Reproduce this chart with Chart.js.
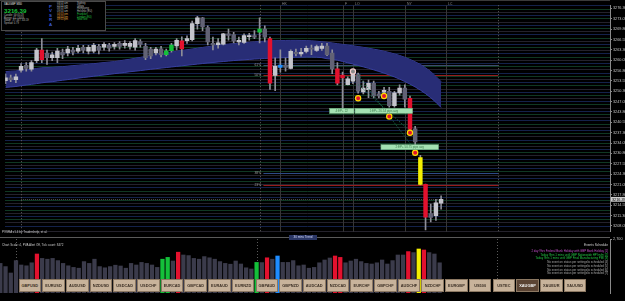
<!DOCTYPE html>
<html lang="en">
<head>
<meta charset="UTF-8">
<meta name="viewport" content="width=device-width, initial-scale=1.0">
<title>XAUGBP M30 - PVSRA</title>
<script src="https://cdn.jsdelivr.net/npm/chart.js"></script>
<style>
  html, body { margin: 0; padding: 0; background: #000; }
  #wrap { position: relative; width: 625px; height: 301px; overflow: hidden; background: #000;
          font-family: "Liberation Sans", Arial, sans-serif; }
  #mainChart { position: absolute; left: 0; top: 0; }
  #volChart { position: absolute; left: 0; top: 237px; }
  .txt { position: absolute; white-space: nowrap; line-height: 1; }
  #info { position: absolute; left: 1px; top: 1px; width: 103px; height: 28px; border: 1px solid #4a4a4a; background: #000; }
  #info .sm { font-size: 2.6px; color: #b8b8b8; }
  .pvsra { position: absolute; left: 47px; font-size: 4.4px; font-weight: bold; color: #3b5bd8; }
  .btn { position: absolute; top: 279px; height: 13px; width: 22.7px; background: #c8b39b; border: 0.5px solid #8c7862;
         box-sizing: border-box; font-size: 3.9px; font-weight: bold; color: #3a2e24; text-align: center; line-height: 12.5px; }
  .btn.on { background: #5b4434; color: #f2f2f2; }
  #events { position: absolute; right: 17px; top: 243.5px; text-align: right; font-size: 2.9px; line-height: 3.75px; }
</style>
</head>
<body>
<div id="wrap">
  <canvas id="mainChart" width="625" height="237"></canvas>
  <canvas id="volChart" width="625" height="64"></canvas>

  <div id="info">
    <div class="txt" style="left:2px;top:1px;font-size:2.8px;color:#e6e6e6">XAUGBP M30</div>
    <div class="txt" style="left:2px;top:5.5px;font-size:6.2px;color:#18c43a;font-weight:bold">3216.39</div>
    <div class="txt sm" style="left:2px;top:13px">Candle: 00:05:28</div>
    <div class="txt sm" style="left:2px;top:15.7px">Range: 41 / 5009</div>
    <div class="txt sm" style="left:2px;top:18.4px">Swap: -97.56 / -63.19</div>
    <div class="txt sm" style="left:2px;top:21.1px">Spread: 0.79</div>
    <div class="pvsra" style="top:2px">P</div>
    <div class="pvsra" style="top:6.4px">V</div>
    <div class="pvsra" style="top:10.8px">S</div>
    <div class="pvsra" style="top:15.2px">R</div>
    <div class="pvsra" style="top:19.6px">A</div>
    <div id="sessions"></div>
  </div>

  <div class="txt" style="left:2px;top:231px;font-size:3px;color:#c8c8c8">PVSRA v1.4 by Tradershelp, et al.</div>
  <div class="txt" style="left:2px;top:243.5px;font-size:3px;color:#c8c8c8">Chart Scale: 4,  PVA Alert Off,  Tick count: 8472</div>
  <div class="txt" style="left:289px;top:235px;width:28px;height:5px;background:#2b3766;color:#d6dcff;font-size:3px;line-height:5px;text-align:center">30 mins Trend</div>
  <div id="events"></div>
  <div id="buttons"></div>
</div>

<script>
// ---- price data (M30 bars) ----
const opens = [3253.6, 3254.5, 3253.9, 3256.9, 3258.4, 3257.2, 3259.9, 3263.2, 3262.3, 3260.8,
  3260.8, 3262.6, 3262.3, 3263.2, 3262.9, 3264.1, 3262.9, 3262.9, 3264.4, 3264.1,
  3264.7, 3264.4, 3265.3, 3264.7, 3264.4, 3264.1, 3265.9, 3264.4, 3263.5, 3262.3,
  3263.6, 3261.8, 3263.0, 3264.5, 3266.1, 3266.2, 3266.5, 3271.5, 3273.3, 3270.3,
  3265.3, 3264.9, 3265.1, 3268.3, 3268.1, 3265.8, 3265.6, 3267.4, 3267.8, 3268.8,
  3269.8, 3266.8, 3255.3, 3257.8, 3258.5, 3257.5, 3262.5, 3262.0, 3262.8, 3263.8,
  3263.1, 3263.7, 3264.5, 3262.3, 3257.3, 3255.4, 3252.4, 3253.5, 3255.5, 3250.1,
  3250.8, 3252.8, 3249.5, 3250.0, 3250.3, 3245.8, 3249.8, 3251.3, 3248.1, 3238.5,
  3229.5, 3221.1, 3211.9, 3211.3, 3215.2];
const highs = [3255.7, 3255.4, 3255.7, 3259.0, 3259.3, 3259.9, 3263.8, 3266.8, 3263.2, 3262.6,
  3263.8, 3263.5, 3264.4, 3264.1, 3264.7, 3264.7, 3264.7, 3265.3, 3265.0, 3265.6,
  3265.3, 3265.6, 3265.9, 3266.2, 3265.9, 3266.8, 3266.5, 3265.3, 3264.1, 3264.1,
  3264.4, 3263.5, 3265.3, 3266.8, 3267.4, 3267.7, 3272.3, 3273.8, 3273.5, 3270.8,
  3267.3, 3266.8, 3268.5, 3269.8, 3268.8, 3267.3, 3268.3, 3268.5, 3269.3, 3273.3,
  3270.8, 3267.3, 3260.8, 3263.3, 3260.8, 3263.3, 3263.5, 3263.8, 3264.5, 3264.8,
  3264.8, 3265.3, 3265.3, 3263.3, 3259.3, 3256.3, 3254.8, 3256.3, 3256.0, 3253.5,
  3253.8, 3253.5, 3250.3, 3251.5, 3251.5, 3250.3, 3252.3, 3252.3, 3248.8, 3239.3,
  3230.2, 3221.2, 3214.9, 3216.4, 3217.5];
const lows = [3252.7, 3253.3, 3253.0, 3256.3, 3256.6, 3256.6, 3259.3, 3259.3, 3258.7, 3259.9,
  3259.3, 3260.5, 3261.4, 3261.7, 3262.3, 3262.3, 3262.0, 3262.3, 3262.0, 3263.2,
  3262.9, 3263.5, 3263.5, 3263.8, 3263.5, 3263.2, 3264.1, 3260.2, 3260.5, 3261.7,
  3261.1, 3261.4, 3262.6, 3263.3, 3261.4, 3265.3, 3266.1, 3269.8, 3269.3, 3264.8,
  3263.3, 3263.8, 3264.8, 3266.3, 3265.5, 3264.8, 3265.3, 3266.3, 3266.8, 3265.5,
  3265.8, 3250.9, 3250.5, 3256.3, 3256.6, 3257.3, 3261.4, 3261.3, 3262.3, 3261.8,
  3262.8, 3263.1, 3261.5, 3255.8, 3252.3, 3244.3, 3252.3, 3252.7, 3249.7, 3249.5,
  3248.3, 3248.3, 3248.2, 3249.4, 3245.3, 3245.3, 3249.1, 3245.3, 3237.3, 3232.3,
  3220.9, 3206.8, 3209.3, 3209.8, 3213.3];
const closes = [3254.5, 3253.9, 3254.8, 3258.1, 3257.5, 3259.3, 3263.2, 3260.2, 3260.8, 3261.7,
  3262.9, 3261.7, 3263.5, 3262.6, 3263.8, 3263.2, 3264.1, 3264.7, 3263.2, 3265.0,
  3263.8, 3265.0, 3264.4, 3265.3, 3265.3, 3266.2, 3265.0, 3260.8, 3261.4, 3263.5,
  3261.8, 3263.0, 3264.8, 3266.3, 3263.6, 3266.8, 3271.5, 3273.3, 3270.5, 3265.8,
  3264.8, 3265.5, 3268.3, 3267.8, 3266.1, 3266.3, 3267.8, 3267.8, 3267.3, 3269.8,
  3267.3, 3252.8, 3258.1, 3258.5, 3257.8, 3262.8, 3262.1, 3262.5, 3263.8, 3263.5,
  3264.3, 3264.5, 3261.8, 3257.3, 3252.8, 3254.5, 3254.2, 3255.8, 3250.3, 3251.3,
  3252.8, 3248.8, 3248.8, 3250.6, 3245.8, 3249.8, 3251.3, 3247.8, 3238.3, 3234.4,
  3221.1, 3210.8, 3210.7, 3215.3, 3216.39];
const volumes = [1480, 1320, 1000, 1620, 1400, 1360, 1510, 1950, 1730, 1690,
  1730, 1620, 1480, 1360, 1280, 1240, 1570, 1480, 1690, 1320,
  1260, 1320, 1390, 1350, 1240, 1480, 1400, 1530, 1480, 1400,
  1280, 1690, 1780, 1600, 2040, 1900, 1870, 1730, 1690, 1820,
  1760, 1690, 1570, 1480, 1440, 1600, 1450, 1260, 1200, 1530,
  1520, 1760, 1690, 1850, 1530, 1530, 1620, 1360, 1400, 1240,
  1280, 1510, 1650, 1750, 1850, 1780, 1510, 1600, 1690, 1570,
  1480, 1450, 1510, 1650, 1450, 1620, 1900, 1900, 2070, 2020,
  2200, 2150, 2020, 1950, 1510];

// PVSRA vector candles
const redBars = [7, 34, 51, 64, 65, 78, 81];
const greenBars = [31, 32, 49];
const blueBars = [53];
const yellowBars = [80];

// channel band
const bandUpper = [3256.45, 3256.6, 3256.66, 3256.9, 3257.05, 3257.2, 3257.44, 3257.65, 3257.74, 3257.8,
  3257.92, 3258.01, 3258.16, 3258.34, 3258.46, 3258.61, 3258.76, 3258.94, 3259.12, 3259.3,
  3259.45, 3259.6, 3259.84, 3260.11, 3260.35, 3260.65, 3260.92, 3261.22, 3261.55, 3261.85,
  3262.15, 3262.36, 3262.6, 3262.84, 3263.08, 3263.32, 3263.56, 3263.8, 3264.04, 3264.28,
  3264.52, 3264.7, 3264.91, 3265.09, 3265.24, 3265.39, 3265.54, 3265.66, 3265.78, 3265.9,
  3266.02, 3266.11, 3266.17, 3266.2, 3266.23, 3266.26, 3266.26, 3266.23, 3266.2, 3266.11,
  3265.99, 3265.84, 3265.66, 3265.45, 3265.21, 3265.0, 3264.76, 3264.55, 3264.31, 3264.07,
  3263.8, 3263.5, 3263.2, 3262.84, 3262.45, 3262.0, 3261.52, 3260.95, 3260.29, 3259.54,
  3258.7, 3257.65, 3256.45, 3254.95, 3253.3];
const bandLower = [3251.5, 3251.65, 3251.8, 3252.04, 3252.25, 3252.46, 3252.7, 3252.94, 3253.15, 3253.3,
  3253.54, 3253.75, 3253.96, 3254.2, 3254.41, 3254.62, 3254.8, 3255.01, 3255.22, 3255.4,
  3255.61, 3255.82, 3256.0, 3256.21, 3256.42, 3256.6, 3256.78, 3256.99, 3257.2, 3257.38,
  3257.56, 3257.74, 3257.92, 3258.1, 3258.28, 3258.46, 3258.64, 3258.82, 3259.0, 3259.18,
  3259.33, 3259.48, 3259.63, 3259.78, 3259.93, 3260.05, 3260.17, 3260.29, 3260.41, 3260.5,
  3260.59, 3260.68, 3260.74, 3260.8, 3260.86, 3260.92, 3260.95, 3260.98, 3261.01, 3261.01,
  3260.98, 3260.85, 3260.5, 3260.35, 3260.05, 3259.66, 3259.24, 3258.85, 3258.4, 3257.95,
  3257.5, 3257.02, 3256.51, 3256.0, 3255.4, 3254.8, 3254.11, 3253.36, 3252.55, 3251.65,
  3250.66, 3249.55, 3248.29, 3246.85, 3245.2];

// trade markers and targets
const markerBars = [67, 68, 73, 74, 78, 79];
const markerPrices = [3256.5, 3248.1, 3248.8, 3242.4, 3237.3, 3231.0];
const tradePathA = [{ x: 68, y: 3255.4 }, { x: 79, y: 3231.8 }];
const tradePathB = [{ x: 68, y: 3252.4 }, { x: 78, y: 3237.8 }];
const tpTexts = ['4:EP+ 22', '1:EP+ 26.54 pips avg', '2:EP+ 50.75 pips avg'];
const tpFrom = [62.5, 67.4, 72.4];
const tpTo = [67.2, 78.5, 83.5];
const tpPrices = [3244.15, 3244.15, 3232.75];

// horizontal levels
const levelPrices = [3258.4, 3255.4, 3224.8, 3220.9];
const levelNames = ['61%', '50%', '38%', '23%'];

// sessions and days
const daySeparators = [3, 49, 95];
const sessionBars = [53, 65, 67, 77, 85];
const sessionNames = ['HK', 'F', 'LO', 'NY', 'LC'];

// axis labels
const priceTicks = [3276.30, 3273.05, 3269.80, 3266.55, 3263.30, 3260.05, 3256.80, 3253.55, 3250.30, 3247.05,
  3243.80, 3240.55, 3237.30, 3234.05, 3230.80, 3227.55, 3224.30, 3221.05, 3217.80, 3214.55, 3211.30, 3208.05];
const timeTickBars = [0, 4, 9, 15, 20, 25, 30, 36, 41, 48, 53, 58, 63, 69, 74, 79, 84];
const timeLabels = ['24 Dec 2025', '26 Dec 01:30', '26 Dec 04:00', '26 Dec 07:00', '26 Dec 09:30', '26 Dec 12:00',
  '26 Dec 14:30', '26 Dec 17:30', '26 Dec 20:00', '26 Dec 23:30', '29 Dec 03:00', '29 Dec 05:30', '29 Dec 08:00',
  '29 Dec 11:00', '29 Dec 13:30', '29 Dec 16:00', '29 Dec 18:30'];
const volTicks = [2700];

const pairButtons = ['GBPUSD', 'EURUSD', 'AUDUSD', 'NZDUSD', 'USDCAD', 'USDCHF', 'EURCAD', 'GBPCAD', 'EURAUD', 'EURNZD',
  'GBPAUD', 'GBPNZD', 'AUDCAD', 'NZDCAD', 'EURCHF', 'GBPCHF', 'AUDCHF', 'NZDCHF', 'EURGBP', 'US500', 'USTEC',
  'XAUGBP', 'XAUEUR', 'XAUUSD'];
const sessionTimes = ['03:53 am', '07:53 am', '08:53 am', '09:53 am', '04:53 pm', '04:53 pm', '09:53 pm'];
const sessionCities = ['Sydney', 'Tokyo', 'Hongkong', 'Helsinki (EU)', 'Frankfurt', 'London (EU)', 'NewYork'];
const eventLines = [
  '2 day 9hrs Federal Bank Holiday with GBP Bank Holiday [1]',
  'Today 9hrs 1 mins until GBP Nationwide HPI m/m [2]',
  'Today 9hrs 1 mins until GBP Final Manufacturing PMI [3]',
  'No event on status per settings/is scheduled [4]',
  'No event on status per settings/is scheduled [5]',
  'No event on status per settings/is scheduled [6]',
  'No event on status per settings/is scheduled [7]'];
const eventColors = ['#c24fc8', '#22c443', '#22c443', '#a8a8a8', '#a8a8a8', '#a8a8a8', '#a8a8a8'];

// ---- layout constants ----
const xMin = -0.06, xMax = 116.57;
const priceMin = 3206.2, priceMax = 3277.3;
const volMax = 2700;
const bid = closes[closes.length - 1];
const FONT = '"Liberation Sans", Arial, sans-serif';

const vecColor = { red: '#e3112e', green: '#14c03a', blue: '#1e8cff', yellow: '#f4ee00' };
function vectorOf(i) {
  if (redBars.includes(i)) return vecColor.red;
  if (greenBars.includes(i)) return vecColor.green;
  if (blueBars.includes(i)) return vecColor.blue;
  if (yellowBars.includes(i)) return vecColor.yellow;
  return null;
}
const bodyColors = closes.map((c, i) => vectorOf(i) || (c >= opens[i] ? '#c4c4cc' : '#626275'));
const volColors = volumes.map((v, i) => vectorOf(i) || '#3b3b4b');
const stripeColors = ['#103822', '#14224a', '#24222c'];

// ---- html bits ----
const sess = document.getElementById('sessions');
sessionTimes.forEach((t, i) => {
  const late = i >= 4;
  sess.insertAdjacentHTML('beforeend',
    `<div class="txt" style="left:55px;top:${1 + i * 2.7}px;font-size:2.6px;color:${late ? '#e2a23c' : '#b8b8b8'}">${t}</div>` +
    `<div class="txt" style="left:75px;top:${1 + i * 2.7}px;font-size:2.6px;color:${late ? '#22c443' : '#b8b8b8'}">${sessionCities[i]}</div>`);
});
const ev = document.getElementById('events');
ev.insertAdjacentHTML('beforeend', '<div style="color:#d6d6d6;font-size:3.2px;margin-bottom:2.5px">Events Schedule</div>');
eventLines.forEach((t, i) => ev.insertAdjacentHTML('beforeend', `<div style="color:${eventColors[i]}">${t}</div>`));
const btns = document.getElementById('buttons');
pairButtons.forEach((p, i) => {
  btns.insertAdjacentHTML('beforeend',
    `<div class="btn${p === 'XAUGBP' ? ' on' : ''}" style="left:${18.5 + i * 23.7}px">${p}</div>`);
});

// ---- main chart overlay (sessions, levels, targets, bid) ----
const mainOverlay = {
  id: 'mainOverlay',
  beforeDatasetsDraw(chart) {
    const { ctx, chartArea: a, scales: { x, y } } = chart;
    ctx.save();
    ctx.lineWidth = 1;
    ctx.strokeStyle = '#5e5e5e';
    ctx.setLineDash([1, 2]);
    daySeparators.forEach(b => {
      const px = Math.round(x.getPixelForValue(b)) + 0.5;
      ctx.beginPath(); ctx.moveTo(px, a.top); ctx.lineTo(px, a.bottom); ctx.stroke();
    });
    ctx.setLineDash([]);
    ctx.strokeStyle = '#363636';
    ctx.fillStyle = '#8c8c8c';
    ctx.font = '3.4px ' + FONT;
    ctx.textBaseline = 'top';
    sessionBars.forEach((b, i) => {
      const px = Math.round(x.getPixelForValue(b)) + 0.5;
      ctx.beginPath(); ctx.moveTo(px, a.top); ctx.lineTo(px, a.bottom); ctx.stroke();
      ctx.fillText(sessionNames[i], px + 1.5, 2);
    });
    // levels
    const lx0 = x.getPixelForValue(48), lx1 = x.getPixelForValue(95);
    const lvColors = ['#3d4a6c', '#951c1c', '#2d4a86', '#951c1c'];
    ctx.textBaseline = 'middle';
    levelPrices.forEach((p, i) => {
      const py = Math.round(y.getPixelForValue(p)) + 0.5;
      ctx.strokeStyle = lvColors[i];
      ctx.beginPath(); ctx.moveTo(lx0 + 9, py); ctx.lineTo(lx1, py); ctx.stroke();
      ctx.fillStyle = '#9a9a9a';
      ctx.fillText(levelNames[i], lx0, py);
    });
    // bid line
    const by = Math.round(y.getPixelForValue(bid)) + 0.5;
    ctx.strokeStyle = '#4a4a4a';
    ctx.setLineDash([1, 1]);
    ctx.beginPath(); ctx.moveTo(x.getPixelForValue(3), by); ctx.lineTo(x.getPixelForValue(84), by); ctx.stroke();
    ctx.restore();
  },
  afterDatasetsDraw(chart) {
    const { ctx, scales: { x, y } } = chart;
    ctx.save();
    ctx.font = '3px ' + FONT;
    ctx.textBaseline = 'middle';
    ctx.textAlign = 'center';
    tpTexts.forEach((t, i) => {
      const x0 = x.getPixelForValue(tpFrom[i]), x1 = x.getPixelForValue(tpTo[i]);
      const yc = y.getPixelForValue(tpPrices[i]);
      ctx.fillStyle = '#a4e2b2';
      ctx.fillRect(x0, yc - 2.5, x1 - x0, 5);
      ctx.strokeStyle = '#6fb582';
      ctx.lineWidth = 0.6;
      ctx.strokeRect(x0, yc - 2.5, x1 - x0, 5);
      ctx.fillStyle = '#3d7a4d';
      ctx.fillText(t, (x0 + x1) / 2, yc + 0.2);
    });
    ctx.restore();
  },
  afterDraw(chart) {
    const { ctx, chartArea: a, scales: { y } } = chart;
    ctx.save();
    ctx.strokeStyle = '#3a3a3a';
    ctx.beginPath(); ctx.moveTo(0, 0.5); ctx.lineTo(a.right, 0.5); ctx.stroke();
    const by = y.getPixelForValue(bid);
    ctx.fillStyle = '#cfcfcf';
    ctx.fillRect(a.right + 1, by - 2.4, 14, 4.8);
    ctx.fillStyle = '#000';
    ctx.font = '3.8px ' + FONT;
    ctx.textBaseline = 'middle';
    ctx.fillText(bid.toFixed(2), a.right + 2, by + 0.2);
    ctx.restore();
  }
};

new Chart(document.getElementById('mainChart'), {
  type: 'bar',
  data: {
    datasets: [
      { type: 'line', label: 'Band upper', data: bandUpper.map((v, i) => ({ x: i, y: v })),
        borderColor: '#383fa0', borderWidth: 1, pointRadius: 0, fill: false, order: 10 },
      { type: 'line', label: 'Band lower', data: bandLower.map((v, i) => ({ x: i, y: v })),
        borderColor: '#383fa0', borderWidth: 1, pointRadius: 0, fill: '-1', backgroundColor: '#282d76', order: 9 },
      { label: 'Wicks', data: highs.map((h, i) => ({ x: i, y: [lows[i], h] })),
        backgroundColor: '#8e8e98', barThickness: 1, grouped: false, order: 5 },
      { label: 'Bodies', data: closes.map((c, i) => ({ x: i, y: [opens[i], c] })),
        backgroundColor: bodyColors, barThickness: 3.8, minBarLength: 1, grouped: false, order: 4 },
      { type: 'line', label: 'Path A', data: tradePathA, borderColor: '#1f7a5a', borderWidth: 1,
        borderDash: [1, 1.5], pointRadius: 0, fill: false, order: 3 },
      { type: 'line', label: 'Path B', data: tradePathB, borderColor: '#1f7a5a', borderWidth: 1,
        borderDash: [1, 1.5], pointRadius: 0, fill: false, order: 3 },
      { type: 'scatter', label: 'Trades', data: markerBars.map((b, i) => ({ x: b, y: markerPrices[i] })),
        pointRadius: 2.6, borderWidth: 1.2,
        backgroundColor: markerBars.map((b, i) => i === 0 ? '#8a8a8a' : '#e3112e'),
        borderColor: markerBars.map((b, i) => i === 0 ? '#f2cccc' : '#ffd800'), order: 1 }
    ]
  },
  options: {
    responsive: false,
    animation: false,
    events: [],
    layout: { padding: 0 },
    plugins: { legend: { display: false }, tooltip: { enabled: false } },
    scales: {
      x: { type: 'linear', min: xMin, max: xMax, offset: false, display: false, grid: { offset: false } },
      y: {
        type: 'linear', position: 'right', min: priceMin, max: priceMax,
        afterBuildTicks: s => { s.ticks = priceTicks.map(v => ({ value: v })); },
        afterFit: s => { s.width = 15; s.paddingTop = 0; s.paddingBottom = 0; },
        ticks: { color: '#c4c4c4', font: { size: 3.8, family: FONT }, padding: 1, autoSkip: false,
                 callback: v => v.toFixed(2) },
        grid: { drawOnChartArea: false, color: '#8a8a8a', tickLength: 2 },
        border: { color: '#8a8a8a' }
      },
      yg: {
        type: 'linear', position: 'left', min: priceMin, max: priceMax,
        afterFit: s => { s.width = 0; },
        ticks: { display: false, stepSize: 1, maxTicksLimit: 500 },
        grid: { drawTicks: false, color: c => stripeColors[Math.abs(Math.round(c.tick.value)) % stripeColors.length] },
        border: { display: false }
      }
    }
  },
  plugins: [mainOverlay]
});

// ---- volume sub window ----
const volOverlay = {
  id: 'volOverlay',
  beforeDatasetsDraw(chart) {
    const { ctx, chartArea: a, scales: { x } } = chart;
    ctx.save();
    ctx.strokeStyle = '#5a5a5a';
    ctx.beginPath(); ctx.moveTo(0, 0.5); ctx.lineTo(a.right, 0.5); ctx.stroke();
    ctx.setLineDash([1, 2]);
    daySeparators.forEach(b => {
      const px = Math.round(x.getPixelForValue(b)) + 0.5;
      ctx.beginPath(); ctx.moveTo(px, a.top); ctx.lineTo(px, a.bottom); ctx.stroke();
    });
    ctx.restore();
  }
};

new Chart(document.getElementById('volChart'), {
  type: 'bar',
  data: {
    datasets: [{ label: 'Volume', data: volumes.map((v, i) => ({ x: i, y: v })),
      backgroundColor: volColors, barThickness: 3.6, grouped: false }]
  },
  options: {
    responsive: false,
    animation: false,
    events: [],
    layout: { padding: { top: 2 } },
    plugins: { legend: { display: false }, tooltip: { enabled: false } },
    scales: {
      x: {
        type: 'linear', min: xMin, max: xMax, offset: false,
        afterBuildTicks: s => { s.ticks = timeTickBars.map(b => ({ value: b })); },
        afterFit: s => { s.height = 8; s.paddingLeft = 0; s.paddingRight = 0; },
        ticks: { callback: (v, i) => timeLabels[i], align: 'start', maxRotation: 0, autoSkip: false,
                 color: '#b4b4b4', font: { size: 3.6, family: FONT }, padding: 2 },
        grid: { display: false, offset: false },
        border: { display: false }
      },
      y: {
        type: 'linear', position: 'right', min: 0, max: volMax,
        afterBuildTicks: s => { s.ticks = volTicks.map(v => ({ value: v })); },
        afterFit: s => { s.width = 15; s.paddingTop = 0; s.paddingBottom = 0; },
        ticks: { color: '#c4c4c4', font: { size: 3.8, family: FONT }, padding: 1 },
        grid: { drawOnChartArea: false, color: '#8a8a8a', tickLength: 2 },
        border: { color: '#8a8a8a' }
      }
    }
  },
  plugins: [volOverlay]
});
</script>
</body>
</html>
